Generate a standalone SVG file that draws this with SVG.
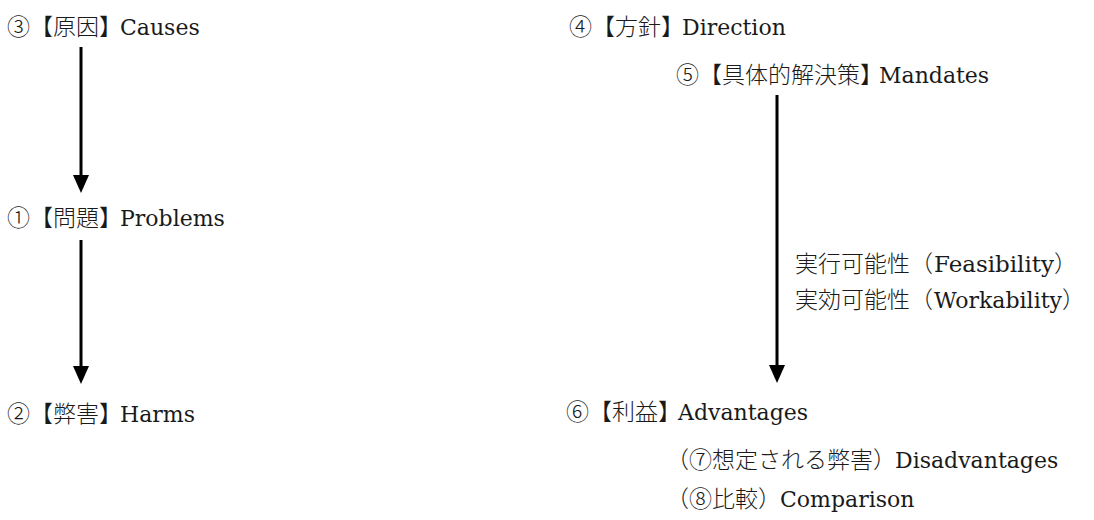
<svg xmlns="http://www.w3.org/2000/svg" width="1094" height="520" viewBox="0 0 1094 520">
<style>
text{fill:#1a1a1a}
.j{font-family:"Noto Sans CJK JP","Noto Sans CJK SC",sans-serif;font-size:23px;font-weight:300}
.l{font-family:"DejaVu Serif","Liberation Serif",serif;font-size:22px}
.c{stroke:#000;stroke-width:3;fill:none}
</style>
<defs>
<marker id="ah" markerUnits="userSpaceOnUse" markerWidth="18" markerHeight="16" viewBox="0 0 18 16" refX="1" refY="8" orient="auto">
<path d="M0,0 L18,8 L0,16 z" fill="#000"/>
</marker>
</defs>
<rect width="1094" height="520" fill="#fff"/>
<g id="connectors">
<line class="c" x1="81" y1="47" x2="81" y2="176" marker-end="url(#ah)"/>
<line class="c" x1="81" y1="240" x2="81" y2="367" marker-end="url(#ah)"/>
<line class="c" x1="777" y1="95" x2="777" y2="366" marker-end="url(#ah)"/>
</g>
<g id="causes"><text y="35"><tspan class="j" font-family="Noto Sans CJK JP, sans-serif" x="7">③【原因】</tspan><tspan class="l" font-family="DejaVu Serif, serif" x="120">Causes</tspan></text></g>
<g id="problems"><text y="226"><tspan class="j" font-family="Noto Sans CJK JP, sans-serif" x="7">①【問題】</tspan><tspan class="l" font-family="DejaVu Serif, serif" x="120">Problems</tspan></text></g>
<g id="harms"><text y="422"><tspan class="j" font-family="Noto Sans CJK JP, sans-serif" x="7">②【弊害】</tspan><tspan class="l" font-family="DejaVu Serif, serif" x="120">Harms</tspan></text></g>
<g id="direction"><text y="35"><tspan class="j" font-family="Noto Sans CJK JP, sans-serif" x="569">④【方針】</tspan><tspan class="l" font-family="DejaVu Serif, serif" x="682">Direction</tspan></text></g>
<g id="mandates"><text y="83"><tspan class="j" font-family="Noto Sans CJK JP, sans-serif" x="676">⑤【具体的解決策】</tspan><tspan class="l" font-family="DejaVu Serif, serif" x="879">Mandates</tspan></text></g>
<g id="feasibility"><text y="272"><tspan class="j" font-family="Noto Sans CJK JP, sans-serif" x="795">実行可能性（</tspan><tspan class="l" font-family="DejaVu Serif, serif" x="934" textLength="120" lengthAdjust="spacingAndGlyphs">Feasibility</tspan><tspan class="j" font-family="Noto Sans CJK JP, sans-serif" x="1054">）</tspan></text></g>
<g id="workability"><text y="308"><tspan class="j" font-family="Noto Sans CJK JP, sans-serif" x="795">実効可能性（</tspan><tspan class="l" font-family="DejaVu Serif, serif" x="934" textLength="128" lengthAdjust="spacingAndGlyphs">Workability</tspan><tspan class="j" font-family="Noto Sans CJK JP, sans-serif" x="1062">）</tspan></text></g>
<g id="advantages"><text y="420"><tspan class="j" font-family="Noto Sans CJK JP, sans-serif" x="566">⑥【利益】</tspan><tspan class="l" font-family="DejaVu Serif, serif" x="678">Advantages</tspan></text></g>
<g id="disadvantages"><text y="468"><tspan class="j" font-family="Noto Sans CJK JP, sans-serif" x="666">（⑦想定される弊害）</tspan><tspan class="l" font-family="DejaVu Serif, serif" x="895">Disadvantages</tspan></text></g>
<g id="comparison"><text y="507"><tspan class="j" font-family="Noto Sans CJK JP, sans-serif" x="666">（⑧比較）</tspan><tspan class="l" font-family="DejaVu Serif, serif" x="780">Comparison</tspan></text></g>
</svg>
